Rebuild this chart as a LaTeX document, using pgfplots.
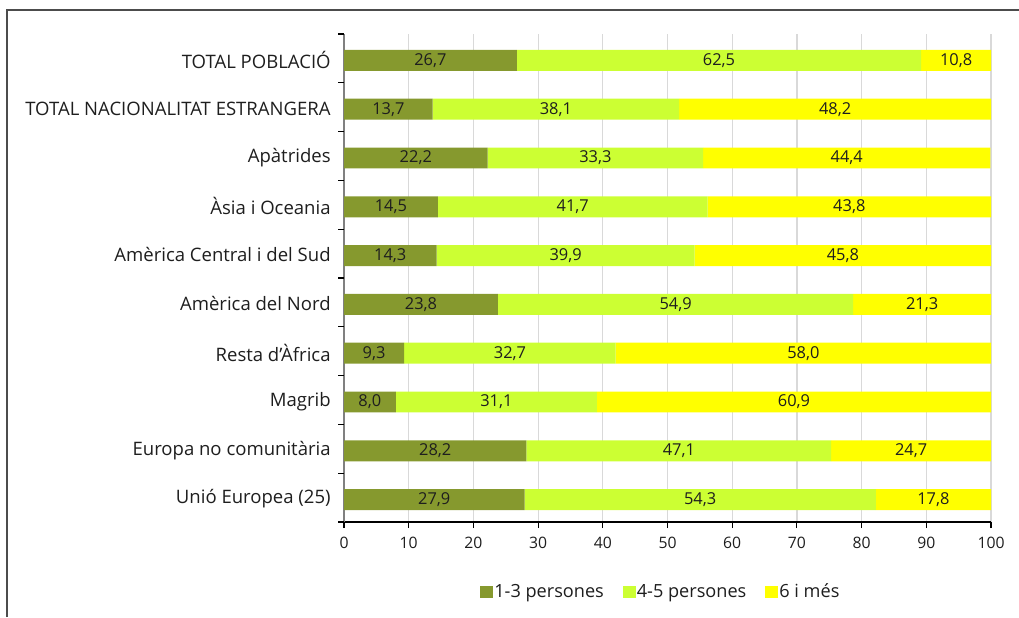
\documentclass[border=0pt]{standalone}
\usepackage{pgfplots}
\pgfplotsset{compat=1.18}
\usepackage{pgfplotstable}
\usepackage{fontspec}
\setmainfont{Open Sans}
\definecolor{cA}{RGB}{134,153,46}
\definecolor{cB}{RGB}{204,255,51}
\definecolor{cC}{RGB}{255,255,0}
\definecolor{txt}{RGB}{30,30,30}
\pgfplotstableread{
y a b c
0 27.9 54.3 17.8
1 28.2 47.1 24.7
2 8.0 31.1 60.9
3 9.3 32.7 58.0
4 23.8 54.9 21.3
5 14.3 39.9 45.8
6 14.5 41.7 43.8
7 22.2 33.3 44.4
8 13.7 38.1 48.2
9 26.7 62.5 10.8
}\data
\begin{document}
\begin{tikzpicture}
\path[use as bounding box] (0,0) rectangle (764.25pt,462.75pt);
\draw[gray!60!black, line width=1.4pt] (5.25pt,0) -- (5.25pt,455.25pt) -- (764.25pt,455.25pt);
\begin{axis}[
  at={(258pt,71.25pt)}, anchor=south west,
  width=485.25pt, height=366pt, scale only axis,
  xbar stacked, bar width=0.43, bar shift=-1.5pt,
  xmin=0, xmax=100, ymin=-0.5, ymax=9.5,
  xtick={0,10,...,100},
  xmajorgrids, grid style={gray!30, line width=0.9pt},
  axis x line*=bottom, axis y line*=left,
  x axis line style={black, line width=0.8pt, -},
  y axis line style={gray, line width=1pt, -},
  tick align=outside, major tick length=4.5pt,
  xtick style={black, line width=0.8pt},
  ytick={0,...,9},
  ytick style={draw=none},
  yticklabels={Unió Europea (25), Europa no comunitària, Magrib, Resta d’Àfrica, Amèrica del Nord, Amèrica Central i del Sud, Àsia i Oceania, Apàtrides, TOTAL NACIONALITAT ESTRANGERA, TOTAL POBLACIÓ},
  extra y ticks={-0.5,0.5,...,9.5},
  extra y tick labels={},
  extra y tick style={ytick style={draw=black, line width=0.8pt}},
  yticklabel style={font=\fontsize{13.9}{16}\selectfont, text=txt, xshift=-2pt, yshift=-1pt},
  xticklabel style={font=\fontsize{11.8}{13}\selectfont, text=txt, yshift=-3pt},
  /pgf/number format/assume math mode=true,
  legend columns=3,
  legend style={draw=none, at={(0.490,-0.143)}, anchor=center, font=\fontsize{13.6}{15}\selectfont, text=txt,
    /tikz/every odd column/.append style={column sep=-1pt},
    /tikz/every even column/.append style={column sep=12pt}},
  legend image code/.code={\fill[#1] (0pt,-4.5pt) rectangle (9.75pt,4.5pt);},
]
\addplot[fill=cA, draw=none] table[x=a, y=y] {\data};
\addplot[fill=cB, draw=none] table[x=b, y=y] {\data};
\addplot[fill=cC, draw=none] table[x=c, y=y] {\data};
\legend{1-3 persones, 4-5 persones, 6 i més}
\end{axis}
\begin{axis}[
  at={(258pt,71.25pt)}, anchor=south west,
  width=485.25pt, height=366pt, scale only axis,
  xmin=0, xmax=100, ymin=-0.5, ymax=9.5,
  hide axis,
  /pgf/number format/assume math mode=true,
  nodes near coords={\pgfmathprintnumber[fixed, fixed zerofill, precision=1, use comma, assume math mode=true]{\pgfplotspointmeta}},
  nodes near coords style={anchor=center, font=\fontsize{12.3}{14}\selectfont, text=txt, yshift=-1.5pt},
  point meta=explicit,
]
\addplot[draw=none, mark=none] table[x expr=\thisrow{a}/2, y=y, meta=a] {\data};
\addplot[draw=none, mark=none] table[x expr=\thisrow{a}+\thisrow{b}/2, y=y, meta=b] {\data};
\addplot[draw=none, mark=none] table[x expr=\thisrow{a}+\thisrow{b}+\thisrow{c}/2, y=y, meta=c] {\data};
\end{axis}
\end{tikzpicture}
\end{document}
